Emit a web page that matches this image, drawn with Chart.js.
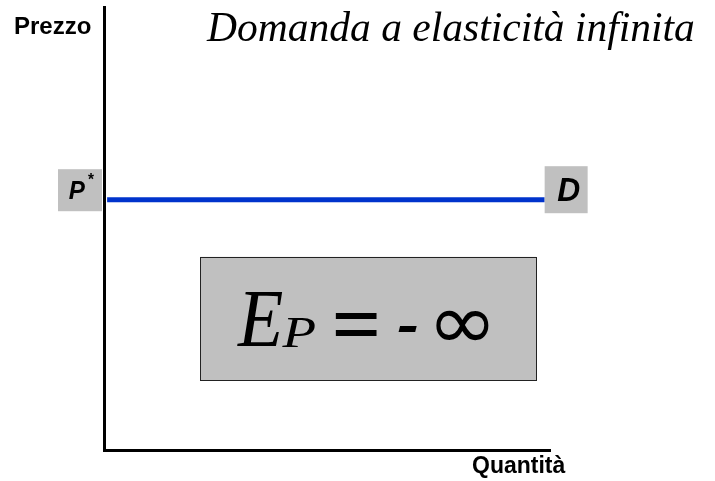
<!DOCTYPE html>
<html>
<head>
<meta charset="utf-8">
<script src="https://cdn.jsdelivr.net/npm/chart.js@4/dist/chart.umd.min.js"></script>
<style>
html,body{margin:0;padding:0;background:#fff;}
#wrap{width:715px;height:481px;position:relative;}
</style>
</head>
<body>
<div id="wrap"><canvas id="c" width="715" height="481"></canvas></div>
<script>
// ---- data ----
const quantityValues = [0.07, 9.88];      // x extent of demand curve
const priceValues = [5.65, 5.65];         // constant price P*
const chartTitle = 'Domanda a elasticità infinita';
const yAxisLabel = 'Prezzo';
const xAxisLabel = 'Quantità';
const priceLabel = 'P';
const demandLabel = 'D';
const elasticityBox = { x0: 2.16, x1: 9.69, y0: 1.58, y1: 4.36 };

const SERIF = '"Liberation Serif", "Times New Roman", serif';
const SANS = '"Liberation Sans", Arial, sans-serif';

// draw text so its ink box is centred on (cx, cy) with ink size w x h
function drawInkBox(ctx, text, style, family, cx, cy, w, h) {
  const fs = 100;
  ctx.font = style + ' ' + fs + 'px ' + family;
  const m = ctx.measureText(text);
  const iw = m.actualBoundingBoxLeft + m.actualBoundingBoxRight;
  const ih = m.actualBoundingBoxAscent + m.actualBoundingBoxDescent;
  const sx = w / iw, sy = h / ih;
  ctx.save();
  ctx.translate(cx - w / 2, cy - h / 2);
  ctx.scale(sx, sy);
  ctx.fillText(text, m.actualBoundingBoxLeft, m.actualBoundingBoxAscent);
  ctx.restore();
}

const overlay = {
  id: 'overlay',
  afterDraw(chart) {
    const ctx = chart.ctx;
    const xs = chart.scales.x, ys = chart.scales.y;
    const grey = '#c0c0c0';
    ctx.save();
    // title
    ctx.fillStyle = '#000';
    ctx.textBaseline = 'alphabetic';
    ctx.textAlign = 'left';
    let fs = 40;
    ctx.font = 'italic ' + fs + 'px ' + SERIF;
    const w = ctx.measureText(chartTitle).width;
    fs = fs * 488 / w;
    ctx.font = 'italic ' + fs + 'px ' + SERIF;
    ctx.fillText(chartTitle, 207, 41);
    // axis labels
    ctx.font = 'bold 24px ' + SANS;
    ctx.fillText(yAxisLabel, 14, 34);
    ctx.font = 'bold 23px ' + SANS;
    ctx.fillText(xAxisLabel, 472, 473);

    // P* box
    const py = ys.getPixelForValue(priceValues[0]);
    ctx.fillStyle = grey;
    ctx.fillRect(58, py - 30.5, 44, 42);
    ctx.fillStyle = '#000';
    drawInkBox(ctx, priceLabel, 'bold italic', SANS, 77, py - 9.5, 16, 18);
    drawInkBox(ctx, '*', 'bold', SANS, 91, py - 22.5, 6, 6);

    // D box
    const dx = xs.getPixelForValue(quantityValues[1]);
    ctx.fillStyle = grey;
    ctx.fillRect(dx, py - 33.5, 43, 47);
    ctx.fillStyle = '#000';
    drawInkBox(ctx, demandLabel, 'bold italic', SANS, dx + 24, py - 10, 22, 23);

    // elasticity box
    const bx0 = xs.getPixelForValue(elasticityBox.x0);
    const bx1 = xs.getPixelForValue(elasticityBox.x1);
    const by0 = ys.getPixelForValue(elasticityBox.y1);
    const by1 = ys.getPixelForValue(elasticityBox.y0);
    ctx.fillStyle = grey;
    ctx.fillRect(bx0, by0, bx1 - bx0, by1 - by0);
    ctx.strokeStyle = '#222';
    ctx.lineWidth = 1;
    ctx.strokeRect(Math.round(bx0) + 0.5, Math.round(by0) + 0.5, Math.round(bx1 - bx0), Math.round(by1 - by0));
    ctx.fillStyle = '#000';
    drawInkBox(ctx, 'E', 'italic', SERIF, 259.5, 320, 46, 54);
    drawInkBox(ctx, 'P', 'italic', SERIF, 298.5, 332.5, 33, 29);
    drawInkBox(ctx, '=', 'bold', SERIF, 356, 324.5, 42, 23);
    drawInkBox(ctx, '-', 'bold italic', SANS, 407.5, 329, 19, 6);
    drawInkBox(ctx, '\u221E', 'normal', '"DejaVu Sans", sans-serif', 462.5, 325, 53, 30);
    ctx.restore();
  }
};

new Chart(document.getElementById('c'), {
  type: 'scatter',
  data: {
    datasets: [{
      data: quantityValues.map((q, i) => ({ x: q, y: priceValues[i] })),
      showLine: true,
      borderColor: '#0033cc',
      borderWidth: 5,
      pointRadius: 0,
      fill: false
    }]
  },
  options: {
    responsive: false,
    animation: false,
    events: [],
    layout: { padding: { left: 104, right: 165, top: 7, bottom: 31 } },
    plugins: { legend: { display: false }, tooltip: { enabled: false } },
    scales: {
      x: {
        type: 'linear', min: 0, max: 10,
        ticks: { display: false },
        grid: { display: false, drawTicks: false },
        border: { display: true, color: '#000', width: 3 }
      },
      y: {
        type: 'linear', min: 0, max: 10,
        ticks: { display: false },
        grid: { display: false, drawTicks: false },
        border: { display: true, color: '#000', width: 3 }
      }
    }
  },
  plugins: [overlay]
});
</script>
</body>
</html>
